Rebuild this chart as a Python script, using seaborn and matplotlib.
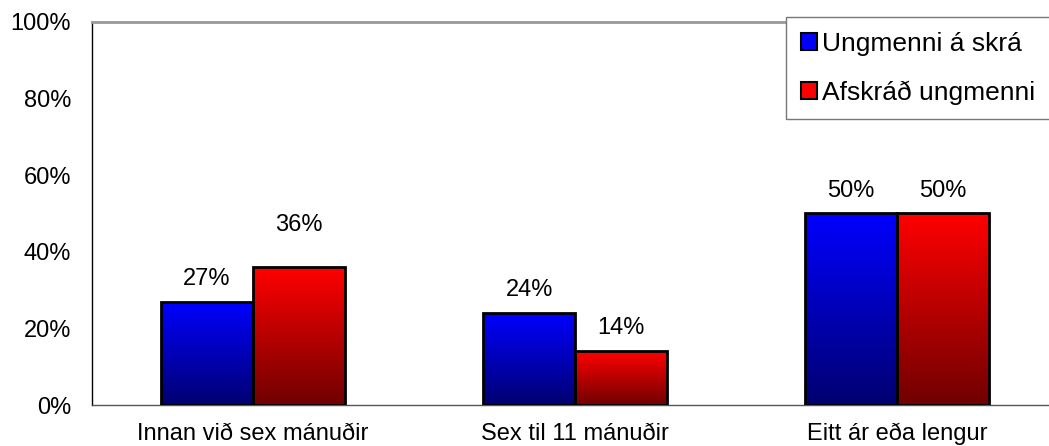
import numpy as np
import pandas as pd
import matplotlib
matplotlib.use("Agg")
import matplotlib.pyplot as plt
import seaborn as sns
from matplotlib.patches import Patch
from matplotlib.colors import LinearSegmentedColormap

categories = ["Innan við sex mánuðir", "Sex til 11 mánuðir", "Eitt ár eða lengur"]
series = ["Ungmenni á skrá", "Afskráð ungmenni"]
on_record = [27, 24, 50]
deregistered = [36, 14, 50]
y_ticks = [0, 20, 40, 60, 80, 100]

df = pd.DataFrame({
    "category": categories * 2,
    "series": [series[0]] * 3 + [series[1]] * 3,
    "value": on_record + deregistered,
})

sns.set_style("white")
plt.rcParams["font.family"] = ["Liberation Sans", "DejaVu Sans"]
plt.rcParams["text.color"] = "black"
plt.rcParams["xtick.labelcolor"] = "black"
plt.rcParams["ytick.labelcolor"] = "black"

fig = plt.figure(figsize=(10.49, 4.46), dpi=100)
ax = fig.add_axes([92 / 1049, 41 / 446, 966 / 1049, 383 / 446])

top_colors = ["#0000ff", "#ff0000"]
bottom_colors = ["#000070", "#700000"]

sns.barplot(data=df, x="category", y="value", hue="series", order=categories,
            hue_order=series, palette=top_colors, width=0.57, ax=ax,
            edgecolor="black", linewidth=2, legend=False, saturation=1)

bars = list(ax.patches)
for i, bar in enumerate(bars):
    s = i // 3
    x0, y0 = bar.get_x(), bar.get_y()
    w, h = bar.get_width(), bar.get_height()
    cmap = LinearSegmentedColormap.from_list("g", [bottom_colors[s], top_colors[s]])
    grad = np.linspace(0, 1, 256).reshape(-1, 1)
    img = ax.imshow(grad, extent=[x0, x0 + w, y0, y0 + h], origin="lower",
                    aspect="auto", cmap=cmap, zorder=2)
    img.set_clip_path(bar)
    bar.set_facecolor("none")
    bar.set_zorder(3)

# value labels above each bar
for i, bar in enumerate(bars):
    v = bar.get_height()
    lift = 11 if (i // 3 == 1 and i % 3 == 0) else 6
    ax.text(bar.get_x() + bar.get_width() / 2, v + lift, f"{v:.0f}%",
            ha="center", va="center", fontsize=17, color="black")

ax.set_xlim(-0.5, 2.5)
ax.set_ylim(0, 100)
ax.set_yticks(y_ticks)
ax.set_yticklabels([f"{t}%" for t in y_ticks], fontsize=17, color="black")
ax.set_xticks(range(3))
ax.set_xticklabels(categories, fontsize=17, color="black")
ax.set_xticks([-0.5, 0.5, 1.5, 2.5], minor=True)
ax.tick_params(axis="x", which="major", length=0, pad=13)
ax.tick_params(axis="x", which="minor", length=5, color="#777777", width=1, direction="out")
ax.tick_params(axis="y", length=5, color="#777777", width=1, direction="out", pad=10)
ax.set_xlabel("")
ax.set_ylabel("")

ax.spines["right"].set_visible(False)
ax.spines["top"].set_color("#999999")
ax.spines["top"].set_linewidth(2)
ax.spines["left"].set_color("black")
ax.spines["left"].set_linewidth(1)
ax.spines["bottom"].set_color("#555555")
ax.spines["bottom"].set_linewidth(1)

handles = [Patch(facecolor=top_colors[k], edgecolor="black", linewidth=1.5) for k in range(2)]
leg = fig.legend(handles, series, loc="upper left", bbox_to_anchor=(786 / 1049, 1 - 17 / 446),
                 fontsize=19, frameon=True, fancybox=False, framealpha=1,
                 handlelength=0.62, handleheight=0.62, handletextpad=0.2,
                 borderpad=0.55, labelspacing=0.95, borderaxespad=0)
leg.get_frame().set_edgecolor("#777777")
leg.get_frame().set_linewidth(1)

fig.savefig("out.png", dpi=100)
